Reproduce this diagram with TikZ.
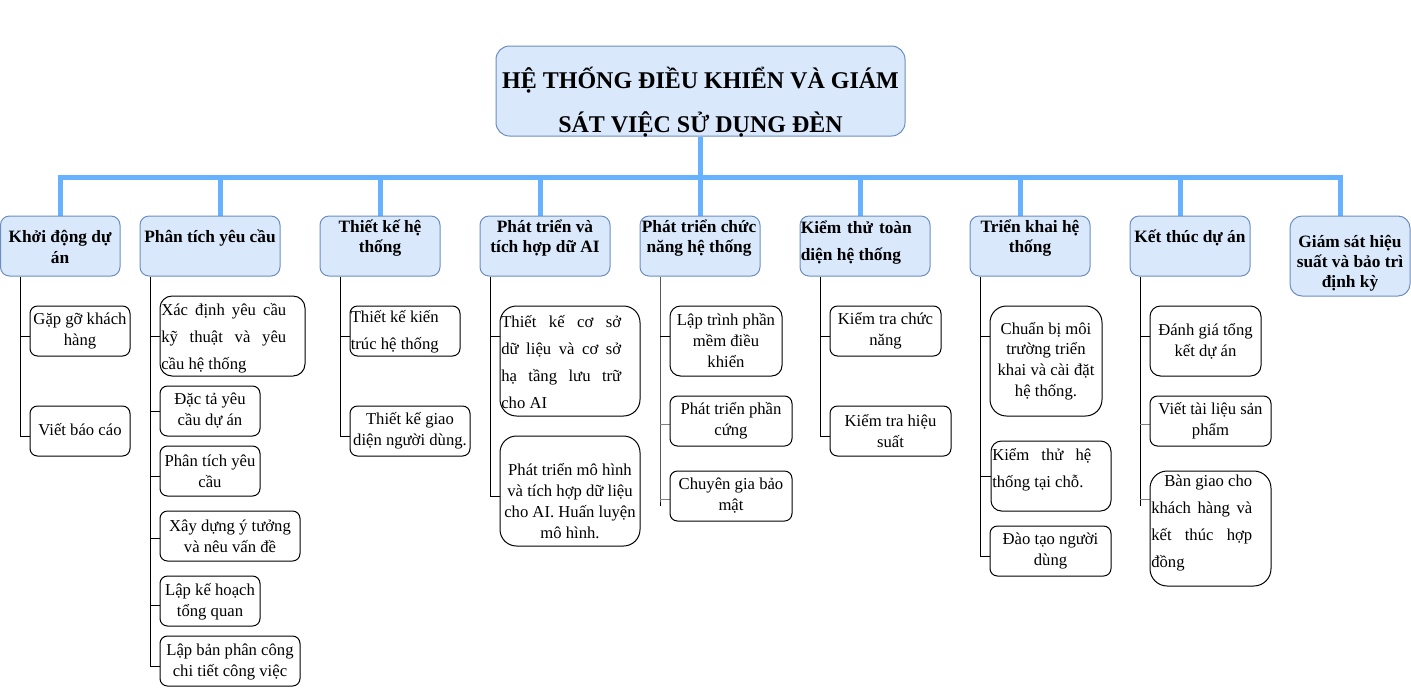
\documentclass[tikz,border=0pt]{standalone}
\usepackage{fontspec}
\setmainfont{Liberation Serif}
\usetikzlibrary{backgrounds}
\definecolor{busblue}{HTML}{66B2FF}
\definecolor{catfill}{HTML}{DAE8FC}
\definecolor{catdraw}{HTML}{6C8EBF}
\definecolor{lgray}{HTML}{808080}
\newcommand\mkbox[6]{%
  \pgfmathsetmacro\bw{(#5-#3)*0.75}%
  \pgfmathsetmacro\bh{(#6-#4)*0.75}%
  \pgfmathsetmacro\br{0.15*min(#5-#3,#6-#4)*0.75}%
  \node[#2, minimum width=\bw pt, minimum height=\bh pt, rounded corners=\br pt] (#1) at ({(#3+#5)/2},{(#4+#6)/2}) {};}
\begin{document}
\begin{tikzpicture}[x=0.75pt,y=-0.75pt,
  catbox/.style={draw=catdraw, fill=catfill, line width=0.75pt, inner sep=0pt},
  leafbox/.style={draw=black, fill=white, line width=0.75pt, inner sep=0pt},
  roottext/.style={font=\fontsize{18}{33}\selectfont\bfseries, align=center, inner sep=0pt},
  cattext/.style={font=\fontsize{13}{15}\selectfont\bfseries, align=center, inner sep=0pt},
  catwide/.style={font=\fontsize{13}{20.25}\selectfont\bfseries, align=left, inner sep=0pt, anchor=west},
  leaftext/.style={font=\fontsize{12.5}{15.75}\selectfont, align=center, inner sep=0pt},
  leafwide/.style={font=\fontsize{12.5}{20.25}\selectfont, align=left, inner sep=0pt, anchor=west},
  tree/.style={draw=black, line width=0.75pt},
  treeg/.style={draw=lgray, line width=0.75pt},
  bus/.style={draw=busblue, line width=3.75pt}]
\useasboundingbox (0,0) rectangle (1411,687);

% ---------- root ----------
\mkbox{root}{catbox}{496}{46}{905}{136}
\node[roottext] (roott) at (700.5,102) {HỆ THỐNG ĐIỀU KHIỂN VÀ GIÁM\\SÁT VIỆC SỬ DỤNG ĐÈN};

% ---------- categories ----------
\mkbox{c1}{catbox}{0.5}{216}{120}{276}
\node[cattext, font=\fontsize{13}{15.75}\selectfont\bfseries] (c1t) at (60,246.5) {Khởi động dự\\án};
\mkbox{c2}{catbox}{140}{216}{280}{276}
\node[cattext] (c2t) at (210,238) {Phân tích yêu cầu};
\mkbox{c3}{catbox}{320}{216}{440}{276}
\node[cattext] (c3t) at (380,238) {Thiết kế hệ\\thống};
\mkbox{c4}{catbox}{480}{216}{610}{276}
\node[cattext] (c4t) at (545,238) {Phát triển và\\tích hợp dữ AI};
\mkbox{c5}{catbox}{640}{216}{760}{276}
\node[cattext] (c5t) at (699,238) {Phát triển chức\\năng hệ thống};
\mkbox{c6}{catbox}{800}{216}{930}{276}
\node[catwide] (c6t) at (800.5,243) {\makebox[83.25pt][s]{Kiểm thử toàn}\\diện hệ thống};
\mkbox{c7}{catbox}{970}{216}{1090}{276}
\node[cattext] (c7t) at (1030,238) {Triển khai hệ\\thống};
\mkbox{c8}{catbox}{1130}{216}{1250}{276}
\node[cattext] (c8t) at (1190,238) {Kết thúc dự án};
\mkbox{c9}{catbox}{1290}{216}{1410}{296}
\node[cattext] (c9t) at (1350,263) {Giám sát hiệu\\suất và bảo trì\\định kỳ};

% ---------- leaves ----------
\mkbox{k1a}{leafbox}{30}{306}{130}{356}
\node[leaftext] (k1at) at (80,331) {Gặp gỡ khách\\hàng};
\mkbox{k1b}{leafbox}{30}{406}{130}{456}
\node[leaftext] (k1bt) at (80,430) {Viết báo cáo};

\mkbox{k2a}{leafbox}{160}{296}{305}{376}
\node[leafwide] (k2at) at (161,338) {\makebox[93.75pt][s]{Xác định yêu cầu}\\\makebox[93.75pt][s]{kỹ thuật và yêu}\\cầu hệ thống};
\mkbox{k2b}{leafbox}{160}{386}{260}{436}
\node[leaftext] (k2bt) at (210,411) {Đặc tả yêu\\cầu dự án};
\mkbox{k2c}{leafbox}{160}{446}{260}{496}
\node[leaftext] (k2ct) at (210,471.5) {Phân tích yêu\\cầu};
\mkbox{k2d}{leafbox}{160}{511}{300}{561}
\node[leaftext] (k2dt) at (230,536.5) {Xây dựng ý tưởng\\và nêu vấn đề};
\mkbox{k2e}{leafbox}{160}{576}{260}{626}
\node[leaftext] (k2et) at (210,601.5) {Lập kế hoạch\\tổng quan};
\mkbox{k2f}{leafbox}{160}{636}{300}{686}
\node[leaftext] (k2ft) at (230,661.5) {Lập bản phân công\\chi tiết công việc};

\mkbox{k3a}{leafbox}{350}{306}{460}{356}
\node[leafwide] (k3at) at (350.5,332) {Thiết kế kiến\\trúc hệ thống};
\mkbox{k3b}{leafbox}{350}{406}{470}{456}
\node[leaftext] (k3bt) at (410,430.5) {Thiết kế giao\\diện người dùng.};

\mkbox{k4a}{leafbox}{500}{306}{640}{416}
\node[leafwide] (k4at) at (501,362) {\makebox[90pt][s]{Thiết kế cơ sở}\\\makebox[90pt][s]{dữ liệu và cơ sở}\\\makebox[90pt][s]{hạ tầng lưu trữ}\\cho AI};
\mkbox{k4b}{leafbox}{500}{436}{640}{546}
\node[leaftext] (k4bt) at (570,501) {Phát triển mô hình\\và tích hợp dữ liệu\\cho AI. Huấn luyện\\mô hình.};

\mkbox{k5a}{leafbox}{670}{306}{782}{376}
\node[leaftext] (k5at) at (726,340.5) {Lập trình phần\\mềm điều\\khiển};
\mkbox{k5b}{leafbox}{670}{396}{792}{446}
\node[leaftext] (k5bt) at (731,421) {Phát triển phần\\cứng};
\mkbox{k5c}{leafbox}{670}{471}{792}{521}
\node[leaftext] (k5ct) at (731,496) {Chuyên gia bảo\\mật};

\mkbox{k6a}{leafbox}{830}{306}{941}{356}
\node[leaftext] (k6at) at (885.5,331) {Kiểm tra chức\\năng};
\mkbox{k6b}{leafbox}{830}{406}{951}{456}
\node[leaftext] (k6bt) at (890.5,431) {Kiểm tra hiệu\\suất};

\mkbox{k7a}{leafbox}{990}{306}{1102}{416}
\node[leaftext, font=\fontsize{12.5}{15.5}\selectfont] (k7at) at (1046,361) {Chuẩn bị môi\\trường triển\\khai và cài đặt\\hệ thống.};
\mkbox{k7b}{leafbox}{991}{441}{1111}{511}
\node[leafwide] (k7bt) at (992,470) {\makebox[74.25pt][s]{Kiểm thử hệ}\\thống tại chỗ.};
\mkbox{k7c}{leafbox}{990}{526}{1111}{576}
\node[leaftext] (k7ct) at (1050.5,551) {Đào tạo người\\dùng};

\mkbox{k8a}{leafbox}{1150}{306}{1261}{376}
\node[leaftext] (k8at) at (1205.5,341) {Đánh giá tổng\\kết dự án};
\mkbox{k8b}{leafbox}{1150}{396}{1271}{446}
\node[leaftext] (k8bt) at (1210.5,421) {Viết tài liệu sản\\phẩm};
\mkbox{k8c}{leafbox}{1150}{471}{1271}{586}
\node[leafwide] (k8ct) at (1151,523) {\makebox[75.75pt][r]{Bàn giao cho}\\\makebox[75.75pt][s]{khách hàng và}\\\makebox[75.75pt][s]{kết thúc hợp}\\đồng};

% ---------- connectors ----------
\begin{scope}[on background layer]
  % blue bus
  \coordinate (d1) at (60,177);   \coordinate (d2) at (220,177);
  \coordinate (d3) at (380,177);  \coordinate (d4) at (540,177);
  \coordinate (d5) at (700,177);  \coordinate (d6) at (860,177);
  \coordinate (d7) at (1020,177); \coordinate (d8) at (1180,177);
  \coordinate (d9) at (1340,177);
  \draw[bus] (root.south) -- (root.south |- d1);
  \draw[bus] (d1 |- c1.north) -- (d1) -- (d9) -- (d9 |- c9.north);
  \draw[bus] (d2) -- (d2 |- c2.north);
  \draw[bus] (d3) -- (d3 |- c3.north);
  \draw[bus] (d4) -- (d4 |- c4.north);
  \draw[bus] (d5) -- (d5 |- c5.north);
  \draw[bus] (d6) -- (d6 |- c6.north);
  \draw[bus] (d7) -- (d7 |- c7.north);
  \draw[bus] (d8) -- (d8 |- c8.north);

  % spine x positions
  \coordinate (v1) at (20,0);   \coordinate (v2) at (150,0);
  \coordinate (v3) at (340,0);  \coordinate (v4) at (490,0);
  \coordinate (v5) at (660,0);  \coordinate (v6) at (820,0);
  \coordinate (v7) at (980,0);  \coordinate (v8) at (1140,0);

  % branch points
  \coordinate (b1a) at ([yshift=-3.75pt]k1a.west);
  \coordinate (b1b) at ([yshift=-3.75pt]k1b.west);
  \coordinate (b2a) at (k2a.west);
  \coordinate (b2b) at (k2b.west);
  \coordinate (b2c) at ([yshift=-3.75pt]k2c.west);
  \coordinate (b2d) at ([yshift=-1.5pt]k2d.west);
  \coordinate (b2e) at ([yshift=-3pt]k2e.west);
  \coordinate (b2f) at ([yshift=-3.75pt]k2f.west);
  \coordinate (b3a) at ([yshift=-3.75pt]k3a.west);
  \coordinate (b3b) at ([yshift=-3.75pt]k3b.west);
  \coordinate (b4a) at ([yshift=18.75pt]k4a.west);
  \coordinate (b4b) at ([yshift=-3.75pt]k4b.west);
  \coordinate (b5a) at ([yshift=3.75pt]k5a.west);
  \coordinate (b5b) at ([yshift=-2.25pt]k5b.west);
  \coordinate (b5c) at ([yshift=-2.25pt]k5c.west);
  \coordinate (b6a) at ([yshift=-3.75pt]k6a.west);
  \coordinate (b6b) at ([yshift=-3.75pt]k6b.west);
  \coordinate (b7a) at ([yshift=18.75pt]k7a.west);
  \coordinate (b7b) at (k7b.west);
  \coordinate (b7c) at ([yshift=-3.75pt]k7c.west);
  \coordinate (b8a) at ([yshift=3.75pt]k8a.west);
  \coordinate (b8b) at ([yshift=-2.25pt]k8b.west);
  \coordinate (b8c) at ([yshift=22.125pt]k8c.west);

  % spines
  \draw[tree] (c1.south -| v1) -- (b1b -| v1);
  \draw[tree] (c2.south -| v2) -- (b2f -| v2);
  \draw[tree] (c3.south -| v3) -- (b3b -| v3);
  \draw[tree] (c4.south -| v4) -- (b4b -| v4);
  \draw[tree] (c5.south -| v5) -- (b5c -| v5) -- ++(0,7);
  \draw[tree] (c6.south -| v6) -- (b6b -| v6);
  \draw[tree] (c7.south -| v7) -- (b7c -| v7);
  \draw[tree] (c8.south -| v8) -- (b8c -| v8) -- ++(0,7);

  % branches
  \draw[tree] (b1a -| v1) -- (b1a);
  \draw[tree] (b1b -| v1) -- (b1b);
  \draw[tree] (b2a -| v2) -- (b2a);
  \draw[tree] (b2b -| v2) -- (b2b);
  \draw[tree] (b2c -| v2) -- (b2c);
  \draw[tree] (b2d -| v2) -- (b2d);
  \draw[tree] (b2e -| v2) -- (b2e);
  \draw[tree] (b2f -| v2) -- (b2f);
  \draw[tree] (b3a -| v3) -- (b3a);
  \draw[tree] (b3b -| v3) -- (b3b);
  \draw[tree] (b4a -| v4) -- (b4a);
  \draw[tree] (b4b -| v4) -- (b4b);
  \draw[tree] (b5a -| v5) -- (b5a);
  \draw[treeg] (b5b -| v5) -- (b5b);
  \draw[treeg] (b5c -| v5) -- (b5c);
  \draw[tree] (b6a -| v6) -- (b6a);
  \draw[tree] (b6b -| v6) -- (b6b);
  \draw[tree] (b7a -| v7) -- (b7a);
  \draw[tree] (b7b -| v7) -- (b7b);
  \draw[tree] (b7c -| v7) -- (b7c);
  \draw[tree] (b8a -| v8) -- (b8a);
  \draw[treeg] (b8b -| v8) -- (b8b);
  \draw[treeg] (b8c -| v8) -- (b8c);
\end{scope}
\end{tikzpicture}
\end{document}
